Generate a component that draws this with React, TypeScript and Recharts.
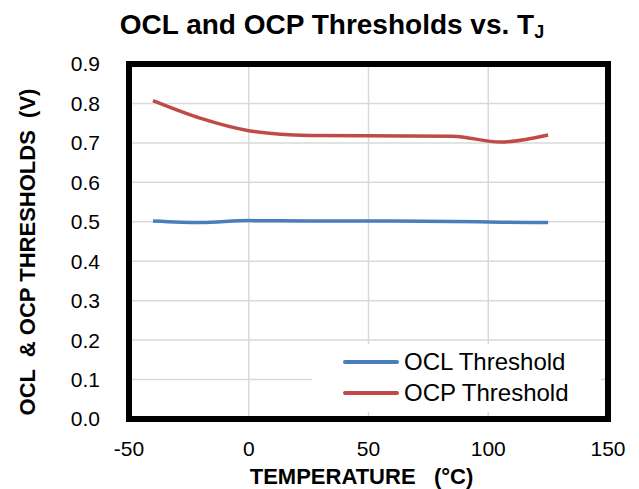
import {
  LineChart,
  Line,
  XAxis,
  YAxis,
  CartesianGrid,
  ReferenceArea,
  Legend,
  Label,
} from "recharts";

const FONT = '"Liberation Sans", Arial, sans-serif';

const temps = [-40, -20, 0, 25, 50, 85, 105, 125];
const oclThreshold = [0.502, 0.498, 0.503, 0.502, 0.502, 0.501, 0.499, 0.498];
const ocpThreshold = [0.807, 0.762, 0.731, 0.719, 0.718, 0.717, 0.702, 0.72];

const xTicks = [-50, 0, 50, 100, 150];
const yTicks = [0, 0.1, 0.2, 0.3, 0.4, 0.5, 0.6, 0.7, 0.8, 0.9];

const series = [
  { key: "ocl", name: "OCL Threshold", color: "#4A7EBB", values: oclThreshold },
  { key: "ocp", name: "OCP Threshold", color: "#BE4B48", values: ocpThreshold },
];

const data = temps.map((t, i) => {
  const row: Record<string, number> = { t };
  series.forEach((s) => {
    row[s.key] = s.values[i];
  });
  return row;
});

function XTitle({ viewBox }: any) {
  const cx = viewBox.x + viewBox.width / 2 - 7;
  return (
    <text
      x={cx}
      y={484}
      textAnchor="middle"
      fontFamily={FONT}
      fontWeight="bold"
      fontSize={22}
      fill="#000"
      style={{ whiteSpace: "pre" }}
    >
      {"TEMPERATURE   (°C)"}
    </text>
  );
}

function YTitle() {
  return (
    <text
      x={0}
      y={0}
      transform="translate(27 252) rotate(-90)"
      textAnchor="middle"
      dominantBaseline="central"
      fontFamily={FONT}
      fontWeight="bold"
      fontSize={22}
      fill="#000"
      style={{ whiteSpace: "pre" }}
    >
      {"OCL  & OCP THRESHOLDS  (V)"}
    </text>
  );
}

function LegendBox() {
  return (
    <div style={{ background: "#fff", width: "100%", height: "100%", paddingTop: 2 }}>
      {series.map((s) => (
        <div
          key={s.key}
          style={{ display: "flex", alignItems: "center", height: 31, fontFamily: FONT, fontSize: 24 }}
        >
          <svg width={70} height={10} style={{ flex: "none", marginLeft: 30 }}>
            <line x1={3} x2={55} y1={5} y2={5} stroke={s.color} strokeWidth={4} strokeLinecap="round" />
          </svg>
          <span style={{ color: "#000", marginLeft: -8 }}>{s.name}</span>
        </div>
      ))}
    </div>
  );
}

export default function App() {
  return (
    <div style={{ position: "absolute", left: 0, top: 0, width: 639, height: 489, background: "#fff" }}>
      <div
        style={{
          position: "absolute",
          left: 0,
          top: 9,
          width: 664,
          textAlign: "center",
          fontFamily: FONT,
          fontWeight: "bold",
          fontSize: 28,
          color: "#000",
          whiteSpace: "nowrap",
        }}
      >
        OCL and OCP Thresholds vs. T
        <span style={{ fontSize: 18, position: "relative", top: 4 }}>J</span>
      </div>
      <LineChart
        width={639}
        height={489}
        data={data}
        margin={{ top: 64, right: 31, left: 0, bottom: 0 }}
      >
        <CartesianGrid stroke="#D9D9D9" strokeWidth={1.5} />
        <XAxis
          type="number"
          dataKey="t"
          domain={[-50, 150]}
          ticks={xTicks}
          axisLine={false}
          tickLine={false}
          tickSize={0}
          tickMargin={22}
          height={70}
          tick={{ fill: "#000", fontSize: 21, fontFamily: FONT }}
        >
          <Label content={<XTitle />} />
        </XAxis>
        <YAxis
          type="number"
          domain={[0, 0.9]}
          ticks={yTicks}
          tickFormatter={(v: number) => v.toFixed(1)}
          axisLine={false}
          tickLine={false}
          tickSize={0}
          tickMargin={29}
          width={129}
          tick={{ fill: "#000", fontSize: 21, fontFamily: FONT }}
        >
          <Label content={<YTitle />} />
        </YAxis>
        {series.map((s) => (
          <Line
            key={s.key}
            type="monotone"
            dataKey={s.key}
            name={s.name}
            stroke={s.color}
            strokeWidth={3.5}
            dot={false}
            activeDot={false}
            isAnimationActive={false}
          />
        ))}
        <ReferenceArea
          x1={-50}
          x2={150}
          y1={0}
          y2={0.9}
          fill="none"
          stroke="#000"
          strokeWidth={6}
          ifOverflow="visible"
        />
        <Legend
          layout="vertical"
          align="center"
          verticalAlign="middle"
          content={<LegendBox />}
          wrapperStyle={{ left: 312, top: 344, width: 289, height: 66 }}
        />
      </LineChart>
    </div>
  );
}
